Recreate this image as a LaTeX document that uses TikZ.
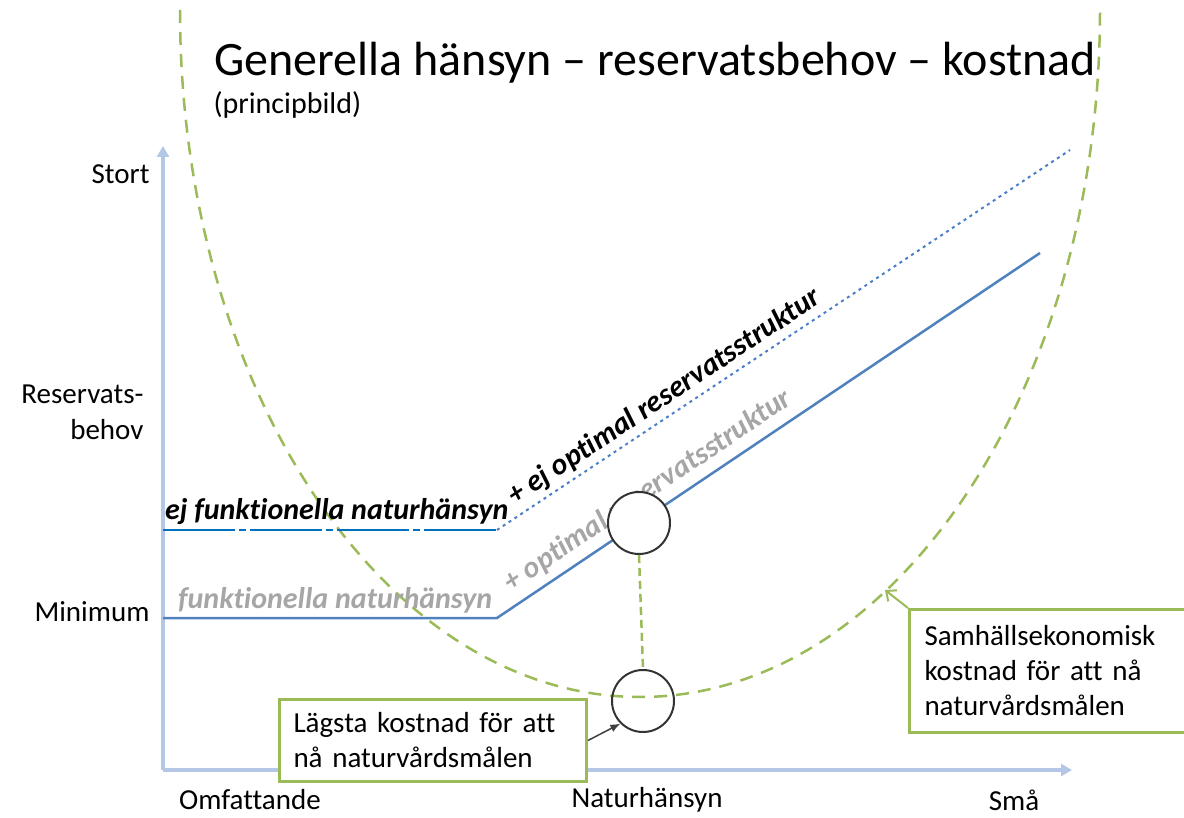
\documentclass[tikz,border=0pt]{standalone}
\usepackage{fontspec}
\setmainfont{Carlito}[Ligatures=NoCommon]
\usetikzlibrary{arrows.meta}
\definecolor{axisblue}{HTML}{B4C7E7}
\definecolor{lineblue}{HTML}{4F81BD}
\definecolor{darkblue}{HTML}{0070C0}
\definecolor{dotblue}{HTML}{4A7EC8}
\definecolor{costgreen}{HTML}{9BBB59}
\definecolor{textgray}{HTML}{A6A6A6}
\tikzset{
  lbl/.style={font=\fontsize{29}{36}\selectfont},
  curvelbl/.style={font=\fontsize{30}{36}\selectfont\bfseries\itshape},
  axisline/.style={axisblue, line width=4pt, -{Triangle[length=11pt,width=12pt]}},
  greenbox/.style={draw=costgreen, line width=3pt, fill=white, align=left, anchor=north west,
    inner xsep=14pt, font=\fontsize{29}{35}\selectfont},
  ring/.style={circle, draw=black!80, line width=2pt, minimum size=62pt, inner sep=0pt}
}
\begin{document}
\begin{tikzpicture}[x=1pt,y=-1pt]
\useasboundingbox (0,0) rectangle (1184,818);
% axes
\coordinate (O) at (163,770);
\coordinate (ytop) at (163,146);
\coordinate (xend) at (1072,770);
\draw[axisline] (O) -- (ytop);
\draw[axisline] (O) -- (xend);
\node[lbl, anchor=east] (stort) at (153,174) {Stort};
\node[lbl, anchor=east, align=right] (behov) at (147,412) {Reservats-\\behov};
\node[lbl, anchor=east] (minimum) at (153,612) {Minimum};
\node[lbl] (omf) at (250,800) {Omfattande};
\node[lbl] (nat) at (647,800) {Naturhänsyn};
\node[lbl] (sma) at (1014,800) {Små};
% title
\node[anchor=west, font=\fontsize{48}{58}\selectfont] (title) at (211,63) {Generella hänsyn – reservatsbehov – kostnad};
\node[anchor=west, font=\fontsize{30}{36}\selectfont] (sub) at (210,105) {(principbild)};
% cost curve
\draw[costgreen, line width=2.5pt, dash pattern=on 13pt off 9pt] (180,10) arc[start angle=180, end angle=0, x radius=460, y radius=687];
% reserve lines
\coordinate (ua) at (163,530);\coordinate (ub) at (497,530);\coordinate (uc) at (1070,150);
\coordinate (la) at (163,618);\coordinate (lb) at (497,618);\coordinate (lc) at (1040,253);
\draw[darkblue, line width=2.5pt, dash pattern=on 72pt off 4pt on 7pt off 4pt] (ua) -- (ub);
\draw[dotblue, line width=2pt, dash pattern=on 3pt off 4pt] (ub) -- (uc)
  node[curvelbl, text=black, pos=0.31, sloped, above, inner sep=4pt] (ejopt) {+ ej optimal reservatsstruktur};
\draw[lineblue, line width=2.5pt] (la) -- (lb) -- (lc)
  node[curvelbl, text=textgray, pos=0.3, sloped, above, inner sep=7pt] (opt) {+ optimal reservatsstruktur};
\node[curvelbl, anchor=south west, inner sep=2pt] (ejfunk) at (163,527) {ej funktionella naturhänsyn};
\node[curvelbl, textgray, anchor=south west, inner sep=2pt] (funk) at (176,615) {funktionella naturhänsyn};
% optimum
\node[ring, fill=white] (upcirc) at (639,523) {};
\node[ring] (lowcirc) at (643,701) {};
\draw[costgreen, line width=2.5pt, dash pattern=on 8pt off 5pt] (upcirc.south) -- (lowcirc.north);
% boxes
\node[greenbox, minimum width=307pt, minimum height=82pt, text width=279pt] (lowbox) at (278,698) {Lägsta kostnad för att\\nå naturvårdsmålen};
\node[greenbox, minimum width=280pt, minimum height=123pt, text width=250pt] (costbox) at (908,608) {Samhällsekonomisk\\kostnad för att nå\\naturvårdsmålen};
\coordinate (tip) at (885,590);
\draw[black!75, line width=1.5pt, -{Latex[length=10pt,width=8pt]}] (lowbox.east) -- (lowcirc.225);
\draw[costgreen, line width=2pt, -{Straight Barb[length=8pt,width=14pt]}] (costbox.north west) -- (tip);
\end{tikzpicture}
\end{document}
